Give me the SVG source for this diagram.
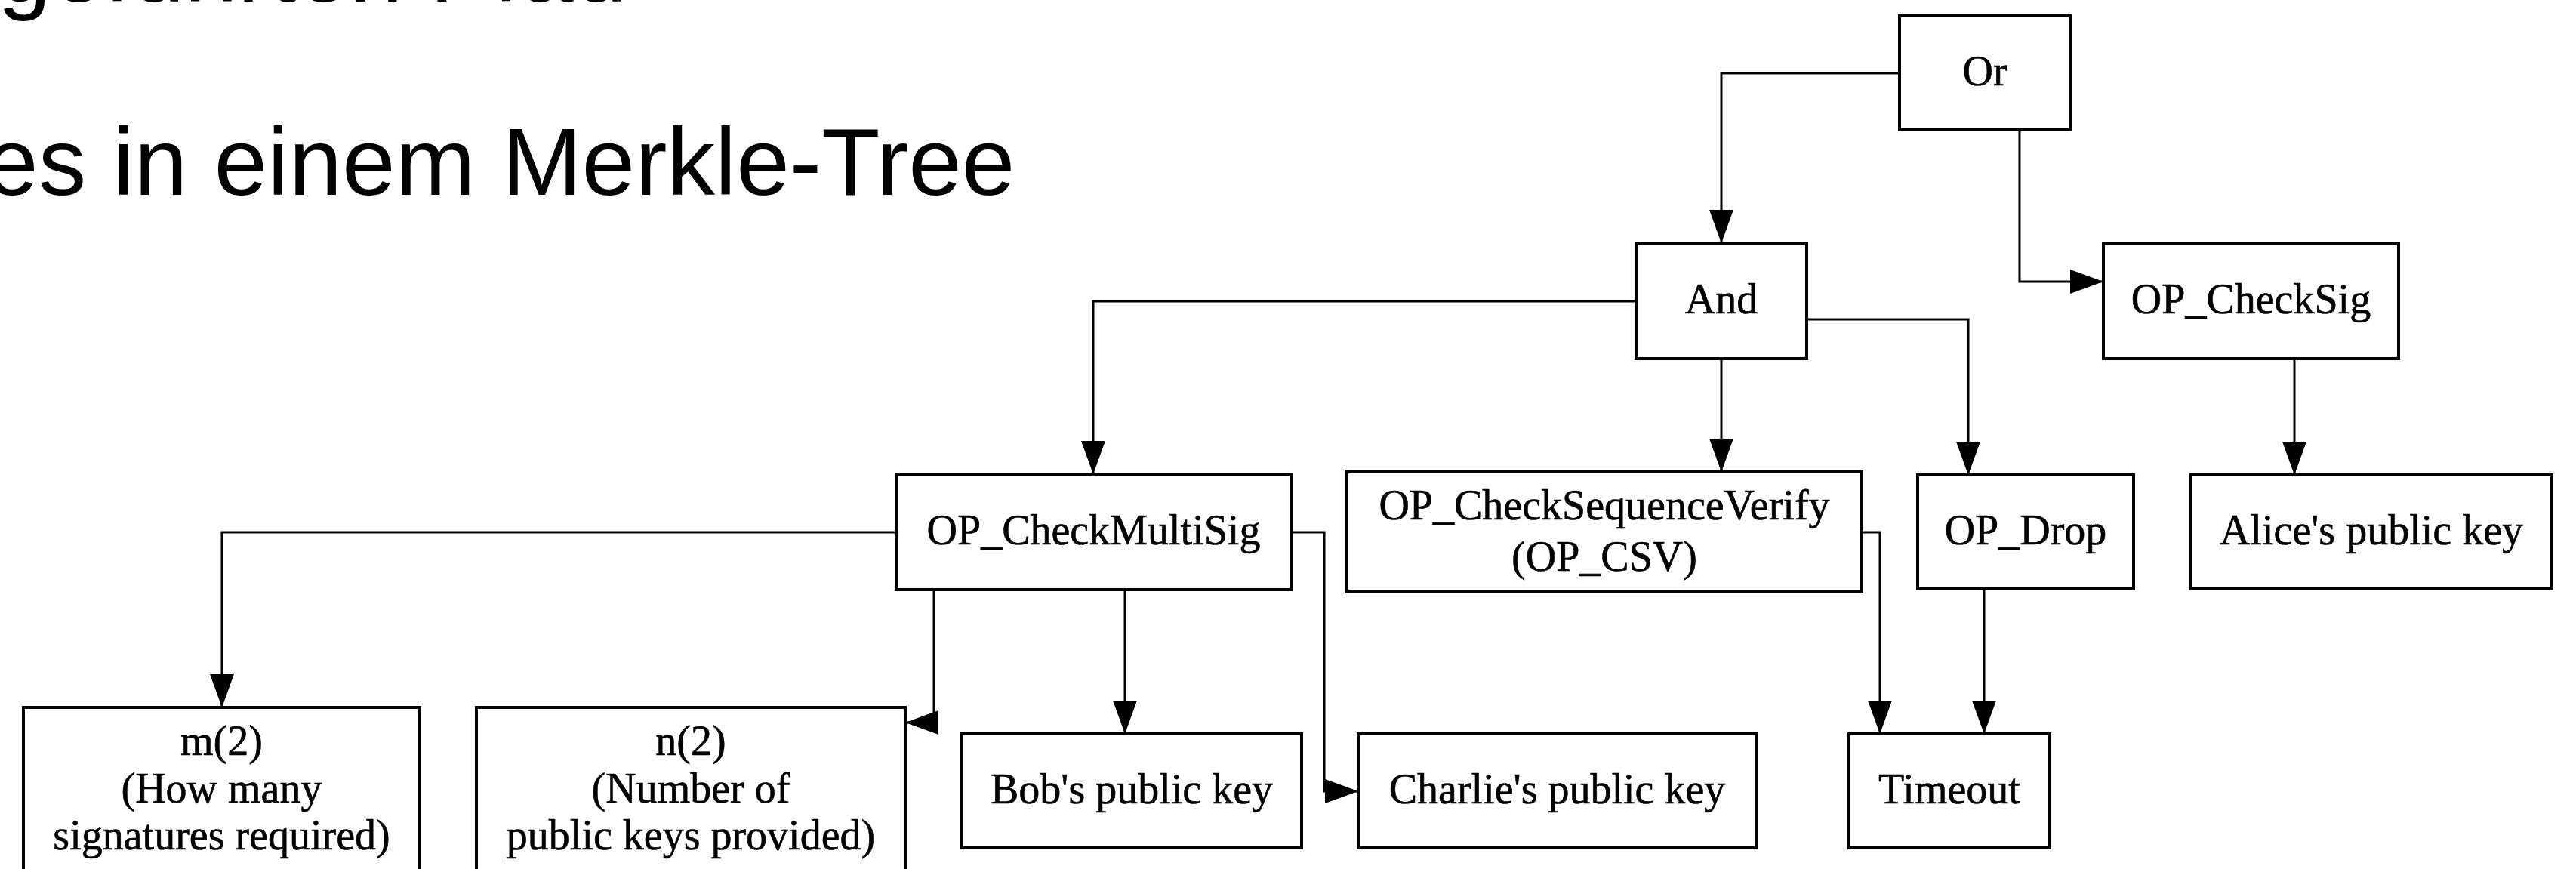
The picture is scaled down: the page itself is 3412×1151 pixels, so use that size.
<svg xmlns="http://www.w3.org/2000/svg" width="3412" height="1151" viewBox="0 0 3412 1151">
<style>
.heading{font-family:"Liberation Sans",Arial,sans-serif;font-size:127px;fill:#000}
.node rect{fill:#fff;stroke:#000;stroke-width:4}
.node text{font-family:"Liberation Serif","Times New Roman",serif;font-size:56px;fill:#000;stroke:#000;stroke-width:0.6;text-anchor:middle}
.edges path{fill:none;stroke:#000;stroke-width:3;marker-end:url(#arrow)}
</style>
<defs>
<marker id="arrow" viewBox="0 0 44 32" refX="44" refY="16" markerWidth="44" markerHeight="32" markerUnits="userSpaceOnUse" orient="auto">
<path d="M0,0 L44,16 L0,32 z" fill="#000"/>
</marker>
</defs>
<rect width="3412" height="1151" fill="#fff"/>
<text class="heading" x="-3" y="2">geführten Pfad</text>
<text class="heading" x="-20" y="258">es in einem Merkle-Tree</text>
<g class="edges">
<path d="M2516,97 H2280 V322"/>
<path d="M2675,172 V373 H2786"/>
<path d="M2167,399 H1448 V628"/>
<path d="M2280,475 V625"/>
<path d="M2393,423 H2607 V629"/>
<path d="M3039,475 V629"/>
<path d="M1187,705 H294 V937"/>
<path d="M1237,781 V957 H1199"/>
<path d="M1490,781 V972"/>
<path d="M1710,705 H1754 V1048 H1799"/>
<path d="M2466,705 H2490 V972"/>
<path d="M2628,780 V972"/>
</g>
<g id="or" class="node"><rect x="2516" y="21" width="226" height="151"/><text x="2629" y="113">Or</text></g>
<g id="and" class="node"><rect x="2167" y="322" width="226" height="153"/><text x="2280" y="415">And</text></g>
<g id="op_checksig" class="node"><rect x="2786" y="322" width="391" height="153"/><text x="2981.5" y="415">OP_CheckSig</text></g>
<g id="op_checkmultisig" class="node"><rect x="1187" y="628" width="523" height="153"/><text x="1448.5" y="721">OP_CheckMultiSig</text></g>
<g id="op_csv" class="node"><rect x="1784" y="625" width="682" height="158"/><text x="2125" y="688">OP_CheckSequenceVerify</text><text x="2125" y="756">(OP_CSV)</text></g>
<g id="op_drop" class="node"><rect x="2540" y="629" width="286" height="151"/><text x="2683" y="721">OP_Drop</text></g>
<g id="alice" class="node"><rect x="2902" y="629" width="478" height="151"/><text x="3141" y="721">Alice's public key</text></g>
<g id="m2" class="node"><rect x="31" y="937" width="525" height="260"/><text x="293.5" y="1000">m(2)</text><text x="293.5" y="1063">(How many</text><text x="293.5" y="1125">signatures required)</text></g>
<g id="n2" class="node"><rect x="631" y="937" width="568" height="260"/><text x="915" y="1000">n(2)</text><text x="915" y="1063">(Number of</text><text x="915" y="1125">public keys provided)</text></g>
<g id="bob" class="node"><rect x="1274" y="972" width="450" height="151"/><text x="1499" y="1064">Bob's public key</text></g>
<g id="charlie" class="node"><rect x="1799" y="972" width="527" height="151"/><text x="2062.5" y="1064">Charlie's public key</text></g>
<g id="timeout" class="node"><rect x="2449" y="972" width="266" height="151"/><text x="2582" y="1064">Timeout</text></g>
</svg>
